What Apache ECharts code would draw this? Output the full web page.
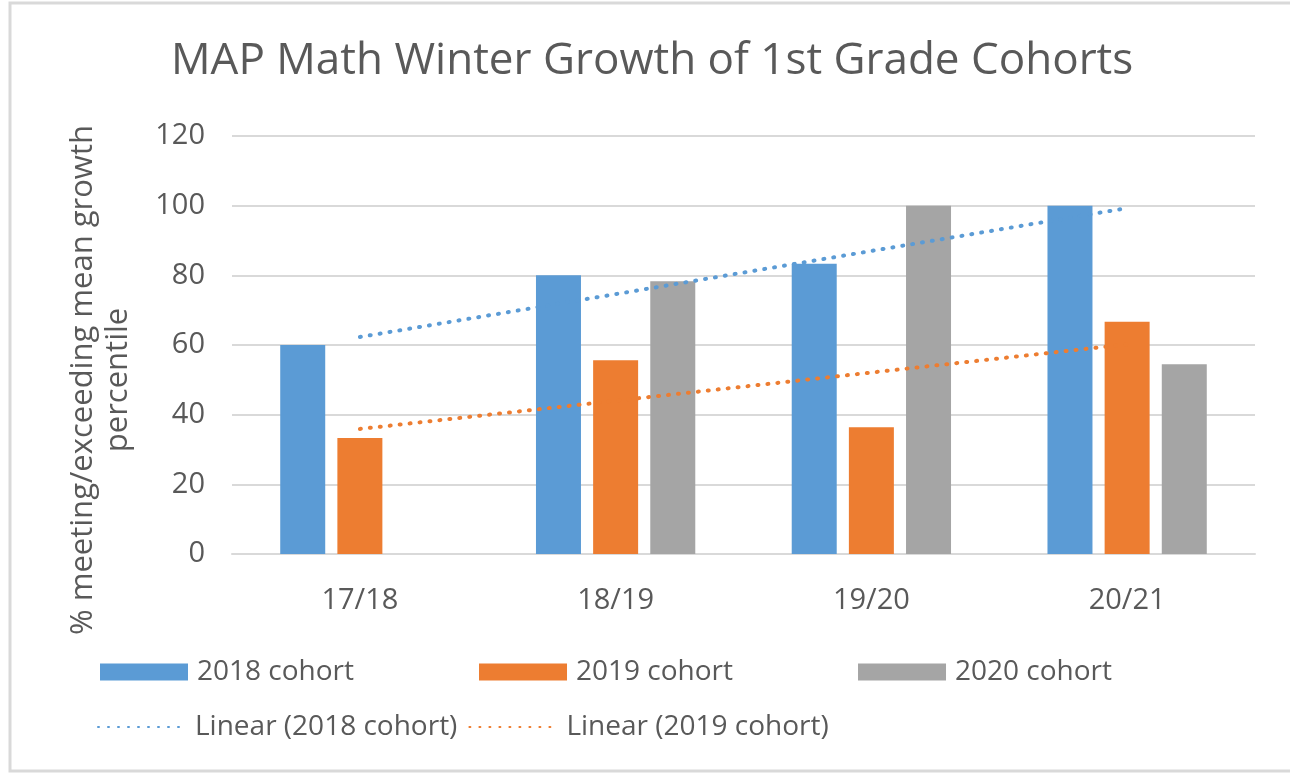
<!DOCTYPE html>
<html>
<head>
<meta charset="utf-8">
<script src="https://cdn.jsdelivr.net/npm/echarts@6/dist/echarts.min.js"></script>
<style>
html,body{margin:0;padding:0;background:#fff;}
#chart{width:1290px;height:773px;}
</style>
</head>
<body>
<div id="chart"></div>
<script>
const categories = ['17/18', '18/19', '19/20', '20/21'];
const cohort2018 = [60, 80, 83.3, 100];
const cohort2019 = [33.3, 55.6, 36.4, 66.7];
const cohort2020 = [null, 78.3, 100, 54.5];
const trend2018 = [62.3, 74.6, 87.0, 99.3];
const trend2019 = [35.9, 44.0, 52.1, 60.2];
const yTicks = { min: 0, max: 120, interval: 20 };

const FONT = '"Open Sans", "Noto Sans", sans-serif';
const TXT = '#595959';
const BLUE = '#5B9BD5', ORANGE = '#ED7D31', GRAY = '#A5A5A5';

const chart = echarts.init(document.getElementById('chart'), null, { renderer: 'canvas' });
const option = {
  backgroundColor: '#ffffff',
  animation: false,
  textStyle: { fontFamily: FONT, color: TXT },
  graphic: [{
    type: 'rect',
    shape: { x: 10, y: 3, width: 1290, height: 768 },
    style: { fill: 'none', stroke: '#d9d9d9', lineWidth: 3 },
    silent: true
  }],
  title: {
    text: 'MAP Math Winter Growth of 1st Grade Cohorts',
    left: 166,
    top: 34,
    textStyle: { fontFamily: FONT, fontWeight: 'normal', fontSize: 44, color: TXT }
  },
  grid: { left: 232, right: 35, top: 136, bottom: 219, containLabel: false },
  legend: [{
    data: ['2018 cohort', '2019 cohort', '2020 cohort'],
    left: 95, top: 653,
    itemWidth: 88, itemHeight: 17, itemGap: 125,
    icon: 'rect',
    textStyle: { fontFamily: FONT, fontSize: 28, color: TXT, padding: [0, 0, 0, 4] }
  }, {
    data: ['Linear (2018 cohort)', 'Linear (2019 cohort)'],
    left: 92, top: 708,
    itemWidth: 88, itemHeight: 20, itemGap: 11,
    itemStyle: { opacity: 0 },
    textStyle: { fontFamily: FONT, fontSize: 28, color: TXT, padding: [0, 0, 0, 4] }
  }],
  xAxis: {
    type: 'category',
    data: categories,
    axisLine: { show: true, lineStyle: { color: '#d9d9d9', width: 2 } },
    axisTick: { show: false },
    axisLabel: { fontFamily: FONT, fontSize: 29, color: TXT, margin: 32 }
  },
  yAxis: {
    type: 'value',
    min: yTicks.min, max: yTicks.max, interval: yTicks.interval,
    name: '% meeting/exceeding mean growth\npercentile',
    nameLocation: 'middle',
    nameRotate: 90,
    nameGap: 96,
    nameTextStyle: { fontFamily: FONT, fontSize: 31, color: TXT, lineHeight: 35, padding: [0, 70, 0, 0] },
    axisLine: { show: false },
    axisTick: { show: false },
    axisLabel: { fontFamily: FONT, fontSize: 29, color: TXT, margin: 27 },
    splitLine: { lineStyle: { color: '#d9d9d9', width: 2 } }
  },
  series: [{
    name: '2018 cohort', type: 'bar', data: cohort2018,
    barWidth: 45, barGap: '27%',
    itemStyle: { color: BLUE }
  }, {
    name: '2019 cohort', type: 'bar', data: cohort2019,
    barWidth: 45, barGap: '27%',
    itemStyle: { color: ORANGE }
  }, {
    name: '2020 cohort', type: 'bar', data: cohort2020,
    barWidth: 45, barGap: '27%',
    itemStyle: { color: GRAY }
  }, {
    name: 'Linear (2018 cohort)', type: 'line', data: trend2018,
    symbol: 'none', z: 5,
    lineStyle: { color: BLUE, width: 4, type: [1, 9], cap: 'round' },
    itemStyle: { color: BLUE }
  }, {
    name: 'Linear (2019 cohort)', type: 'line', data: trend2019,
    symbol: 'none', z: 5,
    lineStyle: { color: ORANGE, width: 4, type: [1, 9], cap: 'round' },
    itemStyle: { color: ORANGE }
  }]
};
chart.setOption(option);
</script>
</body>
</html>
